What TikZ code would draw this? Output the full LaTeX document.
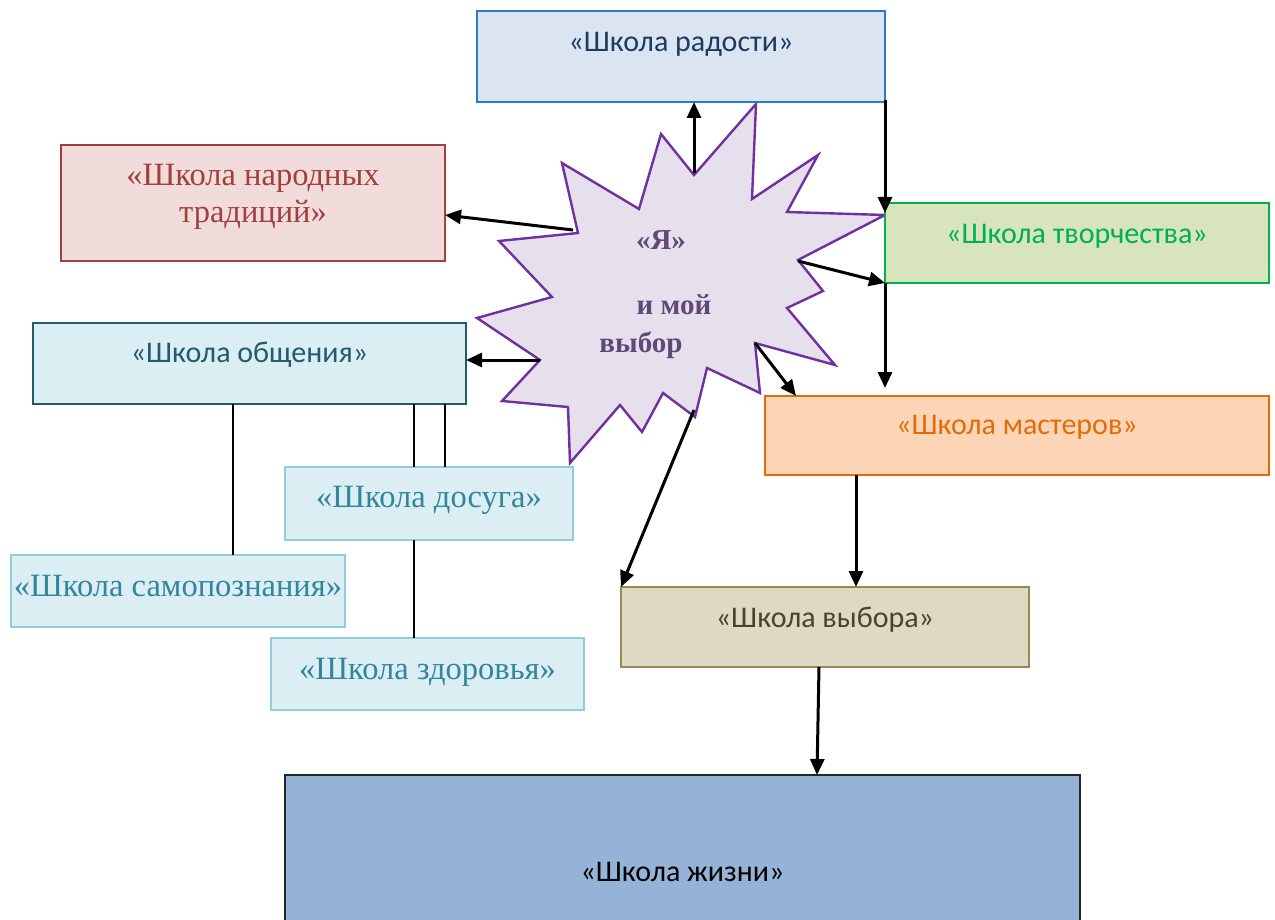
\documentclass[tikz,border=0pt]{standalone}
\usepackage{fontspec}
\setmainfont{Liberation Serif}
\newfontfamily\calibri{Carlito}
\usetikzlibrary{arrows.meta,calc}

\definecolor{radFill}{HTML}{DBE5F1}
\definecolor{radLine}{HTML}{2A7CCB}
\definecolor{radText}{HTML}{1F3A60}
\definecolor{narFill}{HTML}{F2DCDB}
\definecolor{narLine}{HTML}{A0403D}
\definecolor{obsFill}{HTML}{DBEEF3}
\definecolor{obsLine}{HTML}{235B6A}
\definecolor{dosLine}{HTML}{92CDDC}
\definecolor{dosText}{HTML}{31859C}
\definecolor{tvoFill}{HTML}{D7E4BD}
\definecolor{tvoLine}{HTML}{00B050}
\definecolor{masFill}{HTML}{FBD5B5}
\definecolor{masLine}{HTML}{E36C09}
\definecolor{vybFill}{HTML}{DDD9C3}
\definecolor{vybLine}{HTML}{948A54}
\definecolor{vybText}{HTML}{494429}
\definecolor{zhiFill}{HTML}{95B3D7}
\definecolor{starFill}{HTML}{E5E0EC}
\definecolor{starLine}{HTML}{7030A0}
\definecolor{starText}{HTML}{5F497A}

\tikzset{
  school/.style={draw, line width=2.2pt, inner sep=0pt, outer sep=0pt, anchor=north west},
  sans/.style={font=\calibri\fontsize{30}{36}\selectfont},
  serif/.style={font=\fontsize{32.5}{37}\selectfont},
  startext/.style={font=\bfseries\fontsize{29}{34}\selectfont, text=starText, inner sep=0pt},
  arr/.style={-{Triangle[length=16pt,width=14pt]}, line width=3pt},
  link/.style={line width=2.4pt},
}

% #1 style, #2 name, #3 x, #4 y, #5 width, #6 height over baseline, #7 depth, #8 text
\newcommand{\drawschool}[8]{
  \node[school, #1, minimum width=#5pt, text height=#6pt, text depth=#7pt] (#2) at (#3,#4) {#8};
}

\begin{document}
\begin{tikzpicture}[x=1pt,y=-1pt]
  \useasboundingbox (0,0) rectangle (1275,920);

  \draw[fill=starFill, draw=starLine, line width=2.4pt, line join=miter]
    (756,104) -- (752,199) -- (818,155) -- (787,212) -- (885,215) -- (798,260)
    -- (823,291) -- (787,308) -- (835,365) -- (755,343) -- (760,393) -- (707,368)
    -- (695,417) -- (663,393) -- (642,432) -- (620,405) -- (570,463) -- (568,407)
    -- (502,401) -- (540,360) -- (477,318) -- (552,297) -- (499,241) -- (578,233)
    -- (562,163) -- (639,209) -- (661,134) -- (694,175) -- cycle;
  \node[startext] (ya) at (661,240) {«Я»};
  \node[startext] (moi) at (674,305) {и мой};
  \node[startext] (vybor) at (641,345) {выбор};

  \coordinate (s1) at (694,173);
  \coordinate (s2) at (573,230);
  \coordinate (s3) at (540,360);
  \coordinate (s5) at (798,261);
  \coordinate (s6) at (755,343);
  \coordinate (s7) at (694,410);

  \drawschool{sans, fill=radFill, draw=radLine, text=radText}{radosti}{477}{11}{408}{41}{50}{«Школа радости»}
  \drawschool{serif, fill=narFill, draw=narLine, text=narLine}{narod}{61}{145}{384}{41}{75}{\begin{tabular}[t]{@{}c@{}}«Школа народных\\традиций»\end{tabular}}
  \drawschool{sans, fill=obsFill, draw=obsLine, text=obsLine}{obsch}{33}{323}{433}{39}{42}{«Школа общения»}
  \drawschool{serif, fill=obsFill, draw=dosLine, text=dosText}{dosug}{285}{467}{288}{40}{33}{«Школа досуга»}
  \drawschool{serif, fill=obsFill, draw=dosLine, text=dosText}{samop}{11}{555}{334}{41}{31}{«Школа самопознания»}
  \drawschool{serif, fill=obsFill, draw=dosLine, text=dosText}{zdorov}{271}{638}{313}{41}{31}{«Школа здоровья»}
  \drawschool{sans, fill=tvoFill, draw=tvoLine, text=tvoLine}{tvorch}{885}{203}{384}{41}{39}{«Школа творчества»}
  \drawschool{sans, fill=masFill, draw=masLine, text=masLine}{master}{765}{396}{504}{38}{41}{«Школа мастеров»}
  \drawschool{sans, fill=vybFill, draw=vybLine, text=vybText}{vybora}{621}{587}{408}{40}{40}{«Школа выбора»}
  \drawschool{sans, fill=zhiFill, draw=black!85, text=black}{zhizni}{285}{775}{795}{106}{150}{«Школа жизни»}

  % from the star
  \draw[arr] (s1) -- (radosti.south -| s1);
  \draw[arr] (s2) -- ([yshift=-12pt]narod.east);
  \draw[arr] (s3) -- (s3 -| obsch.east);
  \draw[arr] (s5) -- (tvorch.south west);
  \draw[arr] (s6) -- ([xshift=31pt]master.north west);
  \draw[arr] (s7) -- (vybora.north west);

  \draw[arr] ([yshift=2pt]radosti.south east) -- ([yshift=-10pt]tvorch.north west);
  \draw[arr] (tvorch.south west) -- ([yshift=8pt]tvorch.south west |- master.north);
  \draw[arr] ([xshift=91pt]master.south west) -- ([xshift=91pt]master.south west |- vybora.north);
  \draw[arr] ([xshift=198pt]vybora.south west) -- ([xshift=532pt]zhizni.north west);

  \draw[link] ([xshift=200pt]obsch.south west) -- ([xshift=200pt]obsch.south west |- samop.north);
  \foreach \dx in {381,412}{
    \draw[link] ([xshift=\dx pt]obsch.south west) -- ([xshift=\dx pt]obsch.south west |- dosug.north);
  }
  \draw[link] ([xshift=129pt]dosug.south west) -- ([xshift=129pt]dosug.south west |- zdorov.north);
\end{tikzpicture}
\end{document}
